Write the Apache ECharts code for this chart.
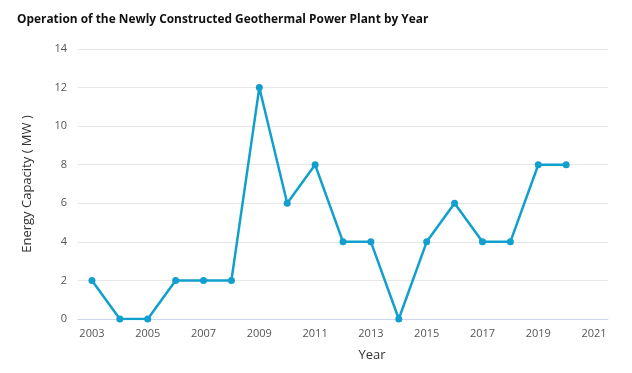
<!DOCTYPE html>
<html><head><meta charset="utf-8">
<script src="https://cdn.jsdelivr.net/npm/echarts@6/dist/echarts.min.js"></script>
<style>html,body{margin:0;padding:0;background:#fff}#c{width:632px;height:373px}</style>
</head><body><div id="c"></div>
<script>
const years = ['2003','2004','2005','2006','2007','2008','2009','2010','2011','2012','2013','2014','2015','2016','2017','2018','2019','2020','2021'];
const capacity = [2,0,0,2,2,2,12,6,8,4,4,0,4,6,4,4,8,8,null];
const yTicks = {min:0, max:14, interval:2};

const chart = echarts.init(document.getElementById('c'));
chart.setOption({
  animation:false,
  title:{text:'Operation of the Newly Constructed Geothermal Power Plant by Year', left:12, top:9,
    textStyle:{fontFamily:'Open Sans', fontWeight:'bold', fontSize:11.9, color:'#111'}},
  grid:{left:78, right:24, top:49, bottom:54},
  xAxis:{type:'category', data:years, boundaryGap:true,
    name:'Year', nameLocation:'middle', nameGap:30,
    nameTextStyle:{fontFamily:'Open Sans', fontSize:13, color:'#333', padding:[0,0,0,58]},
    axisLine:{lineStyle:{color:'#ccd6eb'}}, axisTick:{show:false},
    axisLabel:{interval:1, margin:9, color:'#555', fontFamily:'Open Sans', fontSize:11}},
  yAxis:{type:'value', min:yTicks.min, max:yTicks.max, interval:yTicks.interval,
    name:'Energy Capacity ( MW )', nameLocation:'middle', nameGap:44,
    nameTextStyle:{fontFamily:'Open Sans', fontSize:13, color:'#333'},
    axisLine:{show:false}, axisTick:{show:false},
    axisLabel:{margin:11, color:'#555', fontFamily:'Open Sans', fontSize:11},
    splitLine:{lineStyle:{color:'#e6e6e6'}}},
  series:[{type:'line', data:capacity, symbol:'circle', symbolSize:7,
    itemStyle:{color:'#119fce'}, lineStyle:{color:'#119fce', width:2.5}}]
});
</script></body></html>
